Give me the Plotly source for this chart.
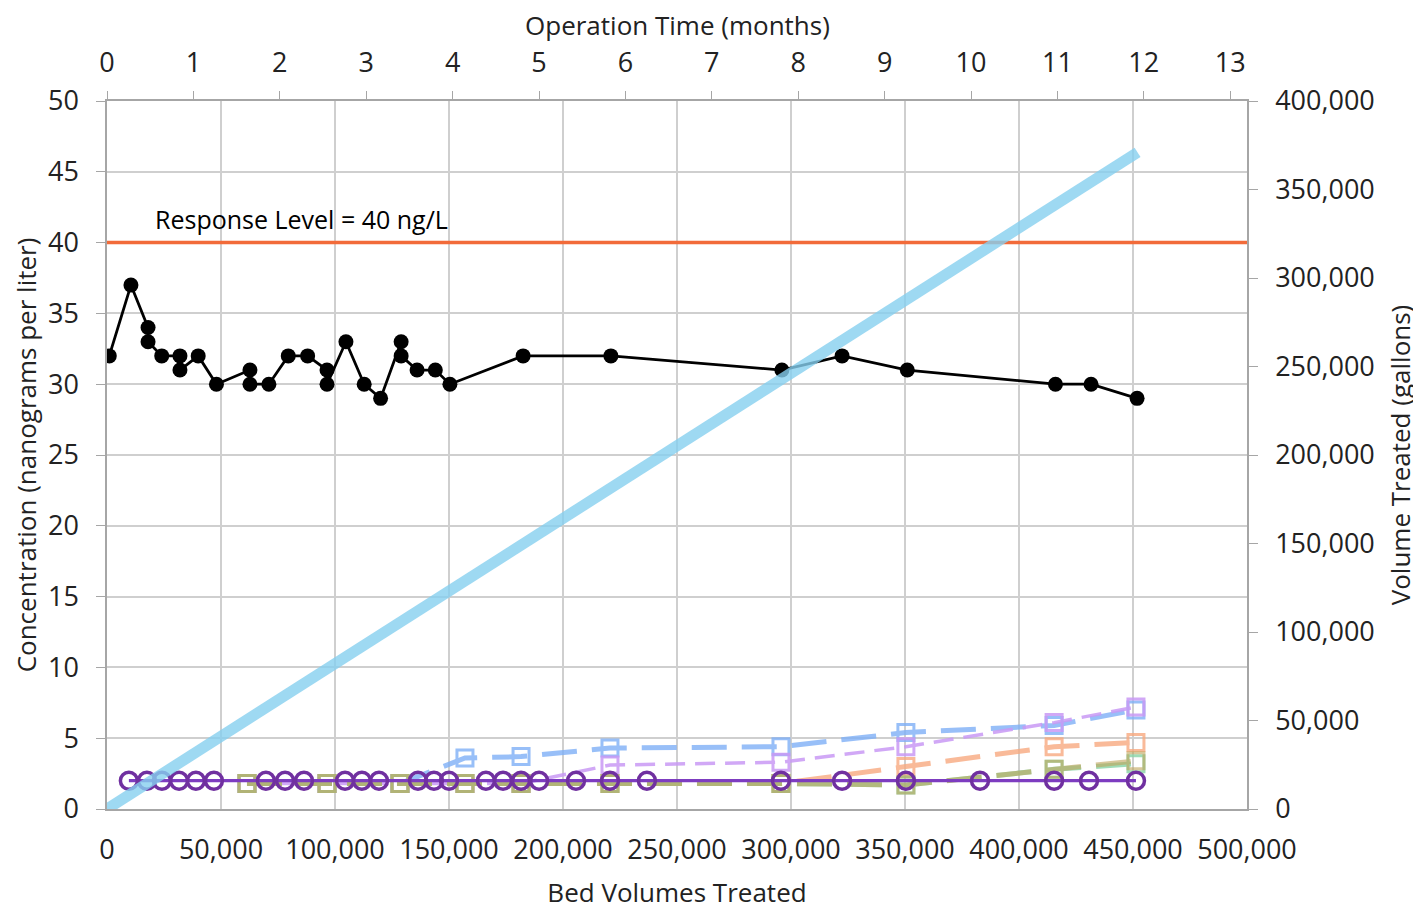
import plotly.graph_objects as go

# total PFAS concentration (ng/L) vs bed volumes treated
bv_total = [1000, 10500, 18000, 18000, 24000, 32000, 32000, 40000, 48000, 62700,
            62700, 71000, 79500, 88000, 96500, 96500, 104800, 112800, 120000, 129000,
            129000, 136000, 144000, 150400, 182500, 221000, 296000, 322400, 351000, 416000,
            431600, 451800]
conc_total = [32, 37, 34, 33, 32, 32, 31, 32, 30, 31,
              30, 30, 32, 32, 31, 30, 33, 30, 29, 33,
              32, 31, 31, 30, 32, 32, 31, 32, 31, 30,
              30, 29]

# treated-water samples (non-detect, plotted at 2 ng/L)
bv_treated = [9600, 17500, 24100, 31600, 39000, 46900, 69700, 78100, 86400, 104400,
              111800, 119300, 136400, 143400, 150000, 166200, 173700, 181600, 189500, 205700,
              220600, 236800, 295600, 322400, 350400, 382900, 415400, 430700, 451300]
conc_treated = [2] * len(bv_treated)

# intermediate sample ports
bv_ports = [61400, 96500, 128500, 157000, 181600, 220600, 295600, 350400, 415400, 451300]
port_blue = [1.8, 1.8, 1.8, 3.6, 3.7, 4.3, 4.4, 5.4, 5.9, 7.0]
port_purple = [1.8, 1.8, 1.8, 1.8, 1.8, 3.1, 3.3, 4.4, 6.1, 7.2]
port_orange = [1.8, 1.8, 1.8, 1.8, 1.8, 1.8, 1.8, 3.0, 4.4, 4.7]
port_green = [1.8, 1.8, 1.8, 1.8, 1.8, 1.8, 1.8, 1.7, 2.8, 3.2]
port_gold = [1.8, 1.8, 1.8, 1.8, 1.8, 1.8, 1.8, 1.7, 2.8, 3.4]

# volume treated (gallons)
bv_volume = [0, 452000]
gallons = [0, 371000]

response_level = 40
response_x = [0, 500000]

FONT = "Open Sans, sans-serif"
GRID = "#CFCFCF"
AXIS = "#A6A6A6"

fig = go.Figure()

ports = [
    (port_blue, "#7FB0F7", "35px,15px", 5, 0.8),
    (port_purple, "#C99AF5", "20px,10px", 3.5, 0.85),
    (port_orange, "#F8AA80", "35px,15px", 5, 0.8),
    (port_green, "#88D4A4", "35px,15px", 5, 0.8),
    (port_gold, "#BFA45A", "35px,15px", 5, 0.6),
]
for vals, col, dash, w, op in ports:
    fig.add_trace(go.Scatter(
        x=bv_ports, y=vals, mode="lines+markers", opacity=op,
        line=dict(color=col, width=w, dash=dash),
        marker=dict(symbol="square-open", size=16, color=col, line=dict(width=3, color=col)),
    ))

fig.add_trace(go.Scatter(
    x=response_x, y=[response_level] * 2, mode="lines",
    line=dict(color="#F26B3A", width=3.5),
))

fig.add_trace(go.Scatter(
    x=bv_treated, y=conc_treated, mode="lines+markers",
    line=dict(color="#7D3CC0", width=3.2),
    marker=dict(symbol="circle-open", size=17, color="#7030A0", line=dict(width=3.5, color="#7030A0")),
))

fig.add_trace(go.Scatter(
    x=bv_total, y=conc_total, mode="lines+markers",
    line=dict(color="#000000", width=2.8),
    marker=dict(symbol="circle", size=15, color="#000000"),
))

fig.add_trace(go.Scatter(
    x=bv_volume, y=gallons, yaxis="y2", mode="lines", opacity=0.8,
    line=dict(color="#86D0F0", width=11),
))

# dummy trace so the top (months) axis is drawn
fig.add_trace(go.Scatter(x=[None], y=[None], xaxis="x2", mode="lines"))

tick_font = dict(family=FONT, size=27, color="#222222")
title_font = dict(family=FONT, size=26, color="#222222")

fig.add_annotation(
    x=20000, y=40.3, xref="x", yref="y", text="Response Level = 40 ng/L",
    showarrow=False, xanchor="left", yanchor="bottom",
    font=dict(family=FONT, size=25, color="#000000"),
)
# top axis title (as annotation so it can sit above the margin limit)
fig.add_annotation(
    x=0.5, y=1, xref="paper", yref="paper", text="Operation Time (months)",
    showarrow=False, yanchor="middle", yshift=76, font=title_font,
)

fig.update_layout(
    width=1421, height=908,
    paper_bgcolor="white", plot_bgcolor="white",
    showlegend=False,
    margin=dict(l=99, r=182, t=93, b=107),
    xaxis=dict(
        range=[0, 500000], dtick=50000, tickformat=",", showgrid=True, gridcolor=GRID, gridwidth=1.5,
        showline=True, linecolor=AXIS, linewidth=1.5, ticks="", tickfont=tick_font,
        ticklabelstandoff=16, zeroline=False, automargin=False,
        title=dict(text="Bed Volumes Treated", font=title_font, standoff=18),
    ),
    xaxis2=dict(
        range=[0, 1140 / 86.4], dtick=1, overlaying="x", side="top", anchor="y",
        showgrid=False, showline=True, linecolor=AXIS, linewidth=1.5, ticks="outside",
        ticklen=8, tickcolor=AXIS, tickfont=tick_font, ticklabelstandoff=8, zeroline=False,
        automargin=False,
    ),
    yaxis=dict(
        range=[0, 50], dtick=5, showgrid=True, gridcolor=GRID, gridwidth=1.5,
        showline=True, linecolor=AXIS, linewidth=1.5, ticks="outside", ticklen=9,
        tickcolor=AXIS, tickfont=tick_font, ticklabelstandoff=12, zeroline=False,
        automargin=False,
        title=dict(text="Concentration (nanograms per liter)", font=title_font, standoff=15),
    ),
    yaxis2=dict(
        range=[0, 400000], dtick=50000, tickformat=",", overlaying="y", side="right",
        showgrid=False, showline=True, linecolor=AXIS, linewidth=1.5, ticks="outside",
        ticklen=9, tickcolor=AXIS, tickfont=tick_font, ticklabelstandoff=12, zeroline=False,
        automargin=False,
        title=dict(text="Volume Treated (gallons)", font=title_font, standoff=18),
    ),
)

fig.write_html("out.html")
